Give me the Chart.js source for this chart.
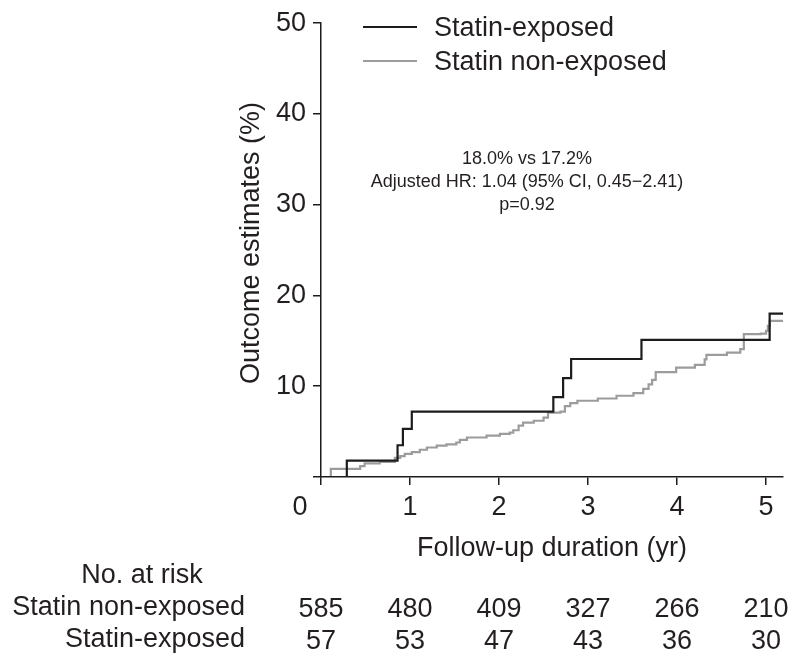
<!DOCTYPE html>
<html>
<head>
<meta charset="utf-8">
<script src="https://cdn.jsdelivr.net/npm/chart.js@4/dist/chart.umd.min.js"></script>
<style>
  html, body { margin: 0; padding: 0; background: #fff; }
  #wrap { width: 794px; height: 663px; position: relative; }
</style>
</head>
<body>
<div id="wrap"><canvas id="kmChart" width="794" height="663"></canvas></div>
<script>
// Curva de estatina (expuestos), pasos
var exposedTimes  = [0, 0.29, 0.86, 0.92, 1.02, 2.61, 2.72, 2.81, 3.60, 5.04, 5.19];
var exposedValues = [0, 1.8, 3.5, 5.3, 7.2, 8.8, 10.9, 13.0, 15.1, 18.0, 18.0];

// Curva de no expuestos
var nonExposedTimes  = [0, 0.11, 0.44, 0.49, 0.66, 0.83, 0.89, 0.94, 1.02, 1.11, 1.19, 1.30, 1.41, 1.52, 1.56, 1.64,
    1.86, 2.01, 2.12, 2.16, 2.22, 2.27, 2.39, 2.50, 2.55, 2.69, 2.74, 2.80, 2.88, 3.11, 3.32, 3.51, 3.62, 3.68, 3.72,
    3.76, 3.99, 4.20, 4.31, 4.33, 4.56, 4.71, 4.75, 4.94, 5.00, 5.02, 5.04, 5.19];
var nonExposedValues = [0, 0.9, 1.2, 1.5, 1.65, 2.1, 2.3, 2.55, 2.75, 3.0, 3.25, 3.45, 3.6, 3.8, 4.1, 4.35,
    4.55, 4.75, 4.9, 5.15, 5.65, 6.0, 6.2, 6.55, 7.1, 7.2, 7.8, 8.15, 8.4, 8.65, 8.95, 9.25, 9.7, 10.2, 10.7,
    11.55, 12.05, 12.35, 12.95, 13.45, 13.7, 14.1, 15.75, 15.8, 16.1, 16.65, 17.2, 17.2];

var xTicks = [0, 1, 2, 3, 4, 5];
var yTicks = [0, 10, 20, 30, 40, 50];

// Tabla de pacientes en riesgo
var riskTimes = [0, 1, 2, 3, 4, 5];
var riskNonExposed = [585, 480, 409, 327, 266, 210];
var riskExposed = [57, 53, 47, 43, 36, 30];

var annotationLines = ['18.0% vs 17.2%', 'Adjusted HR: 1.04 (95% CI, 0.45\u22122.41)', 'p=0.92'];

var FONT = '"Liberation Sans", Arial, Helvetica, sans-serif';
var TXT = '#231f20';

function toPoints(xs, ys) {
    return xs.map(function(x, i) { return { x: x, y: ys[i] }; });
}

// Leyenda, anotacion, titulo Y y tabla dibujadas a mano
var extrasPlugin = {
    id: 'extras',
    afterDraw: function(chart) {
        var ctx = chart.ctx;
        var xs = chart.scales.x;
        ctx.save();
        ctx.fillStyle = TXT;
        ctx.font = '27px ' + FONT;

        // origen "0"
        ctx.textAlign = 'center';
        ctx.textBaseline = 'middle';
        ctx.fillText('0', 300, 508);

        // titulo eje Y
        ctx.save();
        ctx.translate(252, 243);
        ctx.rotate(-Math.PI / 2);
        ctx.fillText('Outcome estimates (%)', 0, 0);
        ctx.restore();

        // leyenda
        var legendRows = [
            { label: chart.data.datasets[0].label, color: chart.data.datasets[0].borderColor, y: 27 },
            { label: chart.data.datasets[1].label, color: chart.data.datasets[1].borderColor, y: 61 }
        ];
        legendRows.forEach(function(r) {
            ctx.strokeStyle = r.color;
            ctx.lineWidth = 2;
            ctx.beginPath();
            ctx.moveTo(363, r.y);
            ctx.lineTo(417, r.y);
            ctx.stroke();
            ctx.textAlign = 'left';
            ctx.fillText(r.label, 434, r.y + 2);
        });

        // anotacion
        ctx.font = '18px ' + FONT;
        ctx.textAlign = 'center';
        annotationLines.forEach(function(t, i) {
            ctx.fillText(t, 527, 159 + i * 23);
        });

        // tabla en riesgo
        ctx.font = '27px ' + FONT;
        ctx.textAlign = 'center';
        ctx.fillText('No. at risk', 142, 576);
        ctx.textAlign = 'right';
        ctx.fillText('Statin non-exposed', 245, 608);
        ctx.fillText('Statin-exposed', 245, 640);
        ctx.textAlign = 'center';
        riskTimes.forEach(function(t, i) {
            var px = xs.getPixelForValue(t);
            ctx.fillText(String(riskNonExposed[i]), px, 610);
            ctx.fillText(String(riskExposed[i]), px, 642);
        });
        ctx.restore();
    }
};

document.addEventListener('DOMContentLoaded', function() {
    var ctx = document.getElementById('kmChart').getContext('2d');
    new Chart(ctx, {
        type: 'line',
        data: {
            datasets: [{
                label: 'Statin-exposed',
                data: toPoints(exposedTimes, exposedValues),
                borderColor: '#1c1c1c',
                borderWidth: 2.2,
                stepped: 'before',
                pointRadius: 0,
                fill: false
            }, {
                label: 'Statin non-exposed',
                data: toPoints(nonExposedTimes, nonExposedValues),
                borderColor: '#9c9c9c',
                borderWidth: 2.2,
                stepped: 'before',
                pointRadius: 0,
                fill: false
            }]
        },
        options: {
            responsive: false,
            animation: false,
            devicePixelRatio: 1,
            layout: { padding: { left: 0, right: 11, top: 18, bottom: 0 } },
            plugins: {
                legend: { display: false },
                tooltip: { enabled: false }
            },
            scales: {
                x: {
                    type: 'linear',
                    min: 0,
                    max: 5.19,
                    afterBuildTicks: function(scale) {
                        scale.ticks = xTicks.map(function(v) { return { value: v }; });
                    },
                    afterFit: function(scale) { scale.height = 186; },
                    ticks: {
                        color: TXT,
                        font: { family: FONT, size: 27 },
                        padding: 6,
                        maxRotation: 0,
                        callback: function(v) { return v === 0 ? '' : v; }
                    },
                    grid: {
                        drawOnChartArea: false,
                        drawTicks: true,
                        tickLength: 8,
                        color: '#1c1c1c',
                        lineWidth: 1.5
                    },
                    border: { display: true, color: '#1c1c1c', width: 1.5 },
                    title: {
                        display: true,
                        text: 'Follow-up duration (yr)',
                        color: TXT,
                        font: { family: FONT, size: 27 },
                        padding: { top: 4, bottom: 98 }
                    }
                },
                y: {
                    min: 0,
                    max: 50,
                    afterBuildTicks: function(scale) {
                        scale.ticks = yTicks.map(function(v) { return { value: v }; });
                    },
                    afterFit: function(scale) { scale.width = 321; },
                    ticks: {
                        color: TXT,
                        font: { family: FONT, size: 27 },
                        padding: 7,
                        callback: function(v) { return v === 0 ? '' : v; }
                    },
                    grid: {
                        drawOnChartArea: false,
                        drawTicks: true,
                        tickLength: 8,
                        color: '#1c1c1c',
                        lineWidth: 1.5
                    },
                    border: { display: true, color: '#1c1c1c', width: 1.5 }
                }
            }
        },
        plugins: [extrasPlugin]
    });
});
</script>
</body>
</html>
